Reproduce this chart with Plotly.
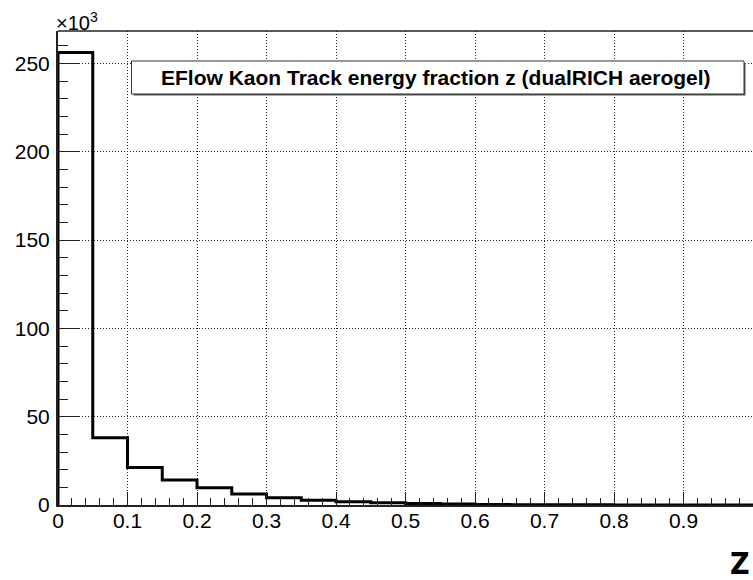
import plotly.graph_objects as go

# Histogram: EFlow Kaon track energy fraction z (20 bins of width 0.05 on [0, 1])
bin_edges = [0.00, 0.05, 0.10, 0.15, 0.20, 0.25, 0.30, 0.35, 0.40, 0.45, 0.50,
             0.55, 0.60, 0.65, 0.70, 0.75, 0.80, 0.85, 0.90, 0.95, 1.00]
counts = [256200, 38100, 21300, 14200, 9800, 6200, 4100, 2700, 1900, 1300,
          900, 500, 300, 200, 120, 80, 50, 30, 20, 10]

y_tick_vals = [0, 50000, 100000, 150000, 200000, 250000]
y_tick_text = ["0", "50", "100", "150", "200", "250"]
x_tick_vals = [0, 0.1, 0.2, 0.3, 0.4, 0.5, 0.6, 0.7, 0.8, 0.9]
x_tick_text = ["0", "0.1", "0.2", "0.3", "0.4", "0.5", "0.6", "0.7", "0.8", "0.9"]

title_text = "EFlow Kaon Track energy fraction z (dualRICH aerogel)"

W, H = 753, 580
ML, MR, MT, MB = 58, 0, 31, 75

fig = go.Figure()
fig.add_trace(go.Scatter(
    x=[bin_edges[0]] + bin_edges,
    y=[0] + counts + [counts[-1]],
    mode="lines",
    line=dict(shape="hv", color="black", width=3),
    showlegend=False,
    hoverinfo="skip",
))

font = "Liberation Sans, Arial, Helvetica, sans-serif"

fig.update_layout(
    width=W, height=H,
    margin=dict(l=ML, r=MR, t=MT, b=MB, pad=0, autoexpand=False),
    paper_bgcolor="white",
    plot_bgcolor="white",
    font=dict(family=font, size=21, color="black"),
    showlegend=False,
)

grid_dash = "1px,2px"

fig.update_xaxes(
    range=[0, 1],
    automargin=False,
    tickmode="array", tickvals=x_tick_vals, ticktext=x_tick_text,
    ticks="inside", ticklen=13, tickwidth=1, tickcolor="#222",
    minor=dict(ticks="inside", ticklen=7, dtick=0.02, tick0=0, tickcolor="#222", tickwidth=1, showgrid=False),
    showline=True, linecolor="#222", linewidth=2, mirror=False,
    showgrid=True, gridcolor="#222", griddash=grid_dash, gridwidth=1,
    zeroline=False,
    tickfont=dict(size=21, family=font),
    ticklabelstandoff=-4,
)
fig.update_yaxes(
    range=[0, 268400],
    automargin=False,
    tickmode="array", tickvals=y_tick_vals, ticktext=y_tick_text,
    ticks="inside", ticklen=21, tickwidth=1, tickcolor="#222",
    minor=dict(ticks="inside", ticklen=10, dtick=10000, tick0=0, tickcolor="#222", tickwidth=1, showgrid=False),
    showline=True, linecolor="#222", linewidth=2, mirror=False,
    showgrid=True, gridcolor="#222", griddash=grid_dash, gridwidth=1,
    zeroline=False,
    tickfont=dict(size=21, family=font),
    ticklabelstandoff=2,
)

# top frame line
fig.add_shape(type="line", xref="paper", yref="paper", x0=0, x1=1, y0=1, y1=1,
              line=dict(color="#222", width=1.5))

# title box (pixel -> paper coords)
pw = W - ML - MR
ph = H - MT - MB
def px(x):
    return (x - ML) / pw
def py(y):
    return (H - MB - y) / ph

fig.add_shape(type="rect", xref="paper", yref="paper",
              x0=px(133.5), x1=px(745.5), y0=py(95.5), y1=py(63),
              line=dict(color="#555", width=0), fillcolor="#555", layer="above")
fig.add_shape(type="rect", xref="paper", yref="paper",
              x0=px(131.5), x1=px(744), y0=py(94), y1=py(61),
              line=dict(color="#333", width=1), fillcolor="white", layer="above")
fig.add_annotation(xref="paper", yref="paper", x=px(436), y=py(77.5),
                   text="<b>" + title_text + "</b>", showarrow=False,
                   font=dict(family=font, size=21, color="black"),
                   xanchor="center", yanchor="middle")

# x10^3 multiplier
fig.add_annotation(xref="paper", yref="paper", x=px(54), y=py(21),
                   text="×10<sup>3</sup>", showarrow=False,
                   font=dict(family=font, size=20, color="black"),
                   xanchor="left", yanchor="middle")

# x-axis title
fig.add_annotation(xref="paper", yref="paper", x=px(752), y=py(563),
                   text="<b>Z</b>", showarrow=False,
                   font=dict(family="DejaVu Sans Condensed, DejaVu Sans, sans-serif", size=30, color="black"),
                   xanchor="right", yanchor="middle")

fig.write_html(
    "out.html",
    config={"displayModeBar": False},
    post_script="document.body.style.margin='0';document.body.style.padding='0';document.body.style.overflow='hidden';",
)
